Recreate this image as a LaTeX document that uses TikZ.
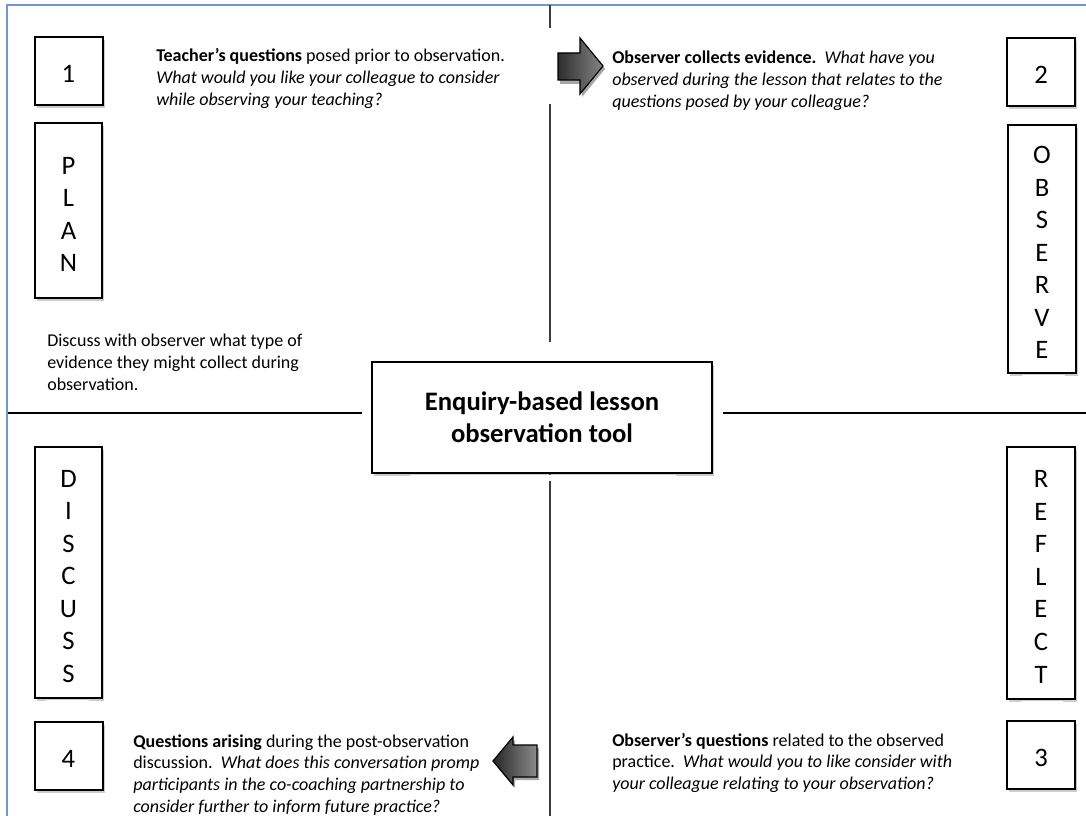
\documentclass[tikz,border=0pt]{standalone}
\usepackage{fontspec}
\setmainfont{Carlito}
\usetikzlibrary{shadows}

\definecolor{frameblue}{RGB}{112,150,212}
\definecolor{rulegray}{RGB}{62,62,62}

\newcommand{\notefont}{\fontsize{13.5pt}{16.25pt}\selectfont}
\newcommand{\cardfont}{\fontsize{20pt}{24.4pt}\selectfont}
\newcommand{\titlefont}{\fontsize{20pt}{24.2pt}\selectfont\bfseries}
% invisible strut that lowers the stacked letters a little inside their card
\newcommand{\toplift}{\rule{0pt}{18.6pt}}

\begin{document}
\begin{tikzpicture}[x=0.75pt,y=-0.75pt,
  card/.style={draw=black,line width=1.5pt,fill=white,inner sep=0pt,
    drop shadow={shadow xshift=1.5pt,shadow yshift=-2.2pt,fill=black!50,opacity=0.4}},
  numbox/.style={card,minimum width=51pt,minimum height=51pt,font=\cardfont,
    text height=17.9pt,text depth=0pt},
  wordbox/.style={card,minimum width=50.5pt,align=center,font=\cardfont},
  note/.style={inner sep=0pt,anchor=base west,font=\notefont},
  divider/.style={line width=1.5pt,draw=rulegray},
  crossline/.style={line width=1.2pt,draw=black},
  pointer/.style={draw=black,line width=0.9pt,line join=miter},
  pointershadow/.style={fill=black,opacity=0.35}
]
% page size
\useasboundingbox (0,0) rectangle (1086,816);

% page frame
\draw[frameblue,line width=1.5pt] (7,816) -- (7,5) -- (1086,5);

% quadrant dividers
\draw[divider] (550,5) -- (550,28);
\draw[divider] (550,104) -- (550,342);
\draw[divider] (550,474) -- (550,816);
\draw[crossline] (8,413) -- (362,413);
\draw[crossline] (723,413) -- (1086,413);

% centre title
\node[card,minimum width=255pt,minimum height=83pt,align=center,font=\titlefont]
  (title) at (542,417.5) {Enquiry-based lesson\\observation tool};
\fill[white] (410,475) rectangle (676,481);

% step numbers
\node[numbox] (n1) at (68.5,71) {1};
\node[numbox] (n2) at (1041,72) {2};
\node[numbox] (n3) at (1041,755) {3};
\node[numbox] (n4) at (68.5,756) {4};

% stage labels
\node[wordbox,minimum height=131.25pt] (plan) at (68.5,210.5) {\toplift P\\L\\A\\N};
\node[wordbox,minimum height=186pt] (observe) at (1042,249) {\toplift O\\B\\S\\E\\R\\V\\E};
\fill[white] (1022,375) rectangle (1065,380);
\node[wordbox,minimum height=188.25pt] (discuss) at (68.5,572.5) {\toplift D\\I\\S\\C\\U\\S\\S};
\fill[white] (46,700) rectangle (89,705);
\node[wordbox,minimum height=189pt] (reflect) at (1041,573) {\toplift R\\E\\F\\L\\E\\C\\T};
\fill[white] (1021,701) rectangle (1063,706);

% direction arrows
\fill[pointershadow] (560,57) -- (582,57) -- (582,41) -- (605,69) -- (582,97) -- (582,84) -- (560,84) -- cycle;
\draw[pointer,left color=black!82,right color=black!48]
  (558,53) -- (580,53) -- (580,38) -- (603,66) -- (580,94) -- (580,80) -- (558,80) -- cycle;
\fill[pointershadow] (539,748) -- (515,748) -- (515,740) -- (495,764) -- (515,788) -- (515,780) -- (539,780) -- cycle;
\draw[pointer,left color=black!85,right color=black!45]
  (537,745) -- (513,745) -- (513,737) -- (493,761) -- (513,785) -- (513,777) -- (537,777) -- cycle;

% notes
\node[note] (q1) at (156,62) {\begin{tabular}[t]{@{}l@{}}
  \textbf{Teacher’s questions} posed prior to observation.\\
  \textit{What would you like your colleague to consider}\\
  \textit{while observing your teaching?}\end{tabular}};
\node[note] (q2) at (612,64) {\begin{tabular}[t]{@{}l@{}}
  \textbf{Observer collects evidence.}\ \ \textit{What have you}\\
  \textit{observed during the lesson that relates to the}\\
  \textit{questions posed by your colleague?}\end{tabular}};
\node[note] (hint) at (47,347) {\begin{tabular}[t]{@{}l@{}}
  Discuss with observer what type of\\
  evidence they might collect during\\
  observation.\end{tabular}};
\node[note] (q3) at (612,746) {\begin{tabular}[t]{@{}l@{}}
  \textbf{Observer’s questions} related to the observed\\
  practice.\ \ \textit{What would you to like consider with}\\
  \textit{your colleague relating to your observation?}\end{tabular}};
\node[note] (q4) at (133,747) {\begin{tabular}[t]{@{}l@{}}
  \textbf{Questions arising} during the post-observation\\
  discussion.\ \ \textit{What does this conversation promp}\\
  \textit{participants in the co-coaching partnership to}\\
  \textit{consider further to inform future practice?}\end{tabular}};
\end{tikzpicture}
\end{document}
